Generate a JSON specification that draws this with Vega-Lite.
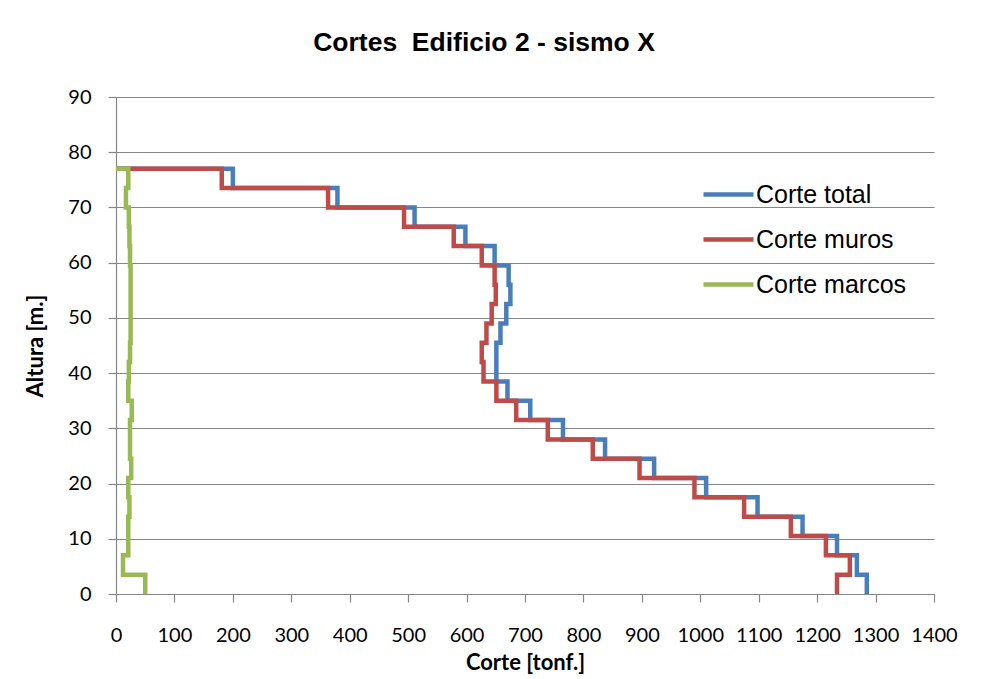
{
  "$schema": "https://vega.github.io/schema/vega-lite/v6.json",
  "width": 818,
  "height": 497,
  "autosize": {"type": "none"},
  "padding": {"left": 116, "top": 97, "right": 50, "bottom": 85},
  "background": "white",
  "title": {
    "text": "Cortes\u00a0 Edificio 2 - sismo X",
    "font": "Liberation Sans",
    "fontSize": 26.5,
    "fontWeight": "bold",
    "color": "black",
    "anchor": "middle",
    "dx": -41,
    "baseline": "alphabetic",
    "offset": 10
  },
  "config": {
    "view": {"stroke": null},
    "axis": {
      "domainColor": "#868686",
      "tickColor": "#868686",
      "gridColor": "#868686",
      "tickSize": 8,
      "domainWidth": 1.2,
      "tickWidth": 1.2,
      "gridWidth": 1.2,
      "labelFont": "Lato",
      "labelFontSize": 20,
      "labelColor": "black",
      "titleFont": "Lato",
      "titleFontSize": 22,
      "titleFontWeight": "bold",
      "titleColor": "black",
      "labelFlush": false,
      "labelOverlap": false
    }
  },
  "data": {
    "values": [
      {"serie": "Corte total", "corte": 0, "altura": 77},
      {"serie": "Corte total", "corte": 200, "altura": 73.5},
      {"serie": "Corte total", "corte": 379, "altura": 70},
      {"serie": "Corte total", "corte": 511, "altura": 66.5},
      {"serie": "Corte total", "corte": 598, "altura": 63},
      {"serie": "Corte total", "corte": 648, "altura": 59.5},
      {"serie": "Corte total", "corte": 672, "altura": 56},
      {"serie": "Corte total", "corte": 675, "altura": 52.5},
      {"serie": "Corte total", "corte": 668, "altura": 49},
      {"serie": "Corte total", "corte": 658, "altura": 45.5},
      {"serie": "Corte total", "corte": 651, "altura": 42},
      {"serie": "Corte total", "corte": 651, "altura": 38.5},
      {"serie": "Corte total", "corte": 670, "altura": 35},
      {"serie": "Corte total", "corte": 709, "altura": 31.5},
      {"serie": "Corte total", "corte": 765, "altura": 28},
      {"serie": "Corte total", "corte": 837, "altura": 24.5},
      {"serie": "Corte total", "corte": 921, "altura": 21},
      {"serie": "Corte total", "corte": 1010, "altura": 17.5},
      {"serie": "Corte total", "corte": 1098, "altura": 14},
      {"serie": "Corte total", "corte": 1175, "altura": 10.5},
      {"serie": "Corte total", "corte": 1234, "altura": 7},
      {"serie": "Corte total", "corte": 1268, "altura": 3.5},
      {"serie": "Corte total", "corte": 1285, "altura": 0},
      {"serie": "Corte muros", "corte": 0, "altura": 77},
      {"serie": "Corte muros", "corte": 181, "altura": 73.5},
      {"serie": "Corte muros", "corte": 363, "altura": 70},
      {"serie": "Corte muros", "corte": 493, "altura": 66.5},
      {"serie": "Corte muros", "corte": 578, "altura": 63},
      {"serie": "Corte muros", "corte": 626, "altura": 59.5},
      {"serie": "Corte muros", "corte": 648, "altura": 56},
      {"serie": "Corte muros", "corte": 650, "altura": 52.5},
      {"serie": "Corte muros", "corte": 643, "altura": 49},
      {"serie": "Corte muros", "corte": 634, "altura": 45.5},
      {"serie": "Corte muros", "corte": 626, "altura": 42},
      {"serie": "Corte muros", "corte": 629, "altura": 38.5},
      {"serie": "Corte muros", "corte": 651, "altura": 35},
      {"serie": "Corte muros", "corte": 685, "altura": 31.5},
      {"serie": "Corte muros", "corte": 739, "altura": 28},
      {"serie": "Corte muros", "corte": 816, "altura": 24.5},
      {"serie": "Corte muros", "corte": 896, "altura": 21},
      {"serie": "Corte muros", "corte": 990, "altura": 17.5},
      {"serie": "Corte muros", "corte": 1075, "altura": 14},
      {"serie": "Corte muros", "corte": 1155, "altura": 10.5},
      {"serie": "Corte muros", "corte": 1215, "altura": 7},
      {"serie": "Corte muros", "corte": 1256, "altura": 3.5},
      {"serie": "Corte muros", "corte": 1234, "altura": 0},
      {"serie": "Corte marcos", "corte": 0, "altura": 77},
      {"serie": "Corte marcos", "corte": 21, "altura": 73.5},
      {"serie": "Corte marcos", "corte": 17, "altura": 70},
      {"serie": "Corte marcos", "corte": 22, "altura": 66.5},
      {"serie": "Corte marcos", "corte": 23, "altura": 63},
      {"serie": "Corte marcos", "corte": 24, "altura": 59.5},
      {"serie": "Corte marcos", "corte": 25, "altura": 56},
      {"serie": "Corte marcos", "corte": 25, "altura": 52.5},
      {"serie": "Corte marcos", "corte": 25, "altura": 49},
      {"serie": "Corte marcos", "corte": 25, "altura": 45.5},
      {"serie": "Corte marcos", "corte": 24, "altura": 42},
      {"serie": "Corte marcos", "corte": 22, "altura": 38.5},
      {"serie": "Corte marcos", "corte": 21, "altura": 35},
      {"serie": "Corte marcos", "corte": 27, "altura": 31.5},
      {"serie": "Corte marcos", "corte": 24, "altura": 28},
      {"serie": "Corte marcos", "corte": 24, "altura": 24.5},
      {"serie": "Corte marcos", "corte": 26, "altura": 21},
      {"serie": "Corte marcos", "corte": 21, "altura": 17.5},
      {"serie": "Corte marcos", "corte": 23, "altura": 14},
      {"serie": "Corte marcos", "corte": 21, "altura": 10.5},
      {"serie": "Corte marcos", "corte": 21, "altura": 7},
      {"serie": "Corte marcos", "corte": 12, "altura": 3.5},
      {"serie": "Corte marcos", "corte": 50, "altura": 0}
    ]
  },
  "encoding": {
    "x": {
      "field": "corte",
      "type": "quantitative",
      "scale": {"domain": [0, 1400], "nice": false, "zero": true},
      "axis": {
        "title": "Corte [tonf.]",
        "grid": false,
        "format": "d",
        "values": [0, 100, 200, 300, 400, 500, 600, 700, 800, 900, 1000, 1100, 1200, 1300, 1400],
        "labelPadding": 23,
        "titlePadding": 7
      }
    },
    "y": {
      "field": "altura",
      "type": "quantitative",
      "scale": {"domain": [0, 90], "nice": false},
      "axis": {
        "title": "Altura [m.]",
        "grid": true,
        "values": [0, 10, 20, 30, 40, 50, 60, 70, 80, 90],
        "labelPadding": 17,
        "titlePadding": 20
      }
    },
    "color": {
      "field": "serie",
      "type": "nominal",
      "scale": {
        "domain": ["Corte total", "Corte muros", "Corte marcos"],
        "range": ["#4A7EBB", "#BE4B48", "#98B954"]
      },
      "legend": {
        "title": null,
        "orient": "none",
        "legendX": 585,
        "legendY": 70,
        "symbolType": "stroke",
        "symbolSize": 2500,
        "symbolStrokeWidth": 4.5,
        "labelFont": "Liberation Sans",
        "labelFontSize": 25,
        "labelColor": "black",
        "labelOffset": 0,
        "rowPadding": 4,
        "padding": 0
      }
    },
    "order": {"field": "altura", "sort": "descending"}
  },
  "layer": [
    {
      "transform": [{"filter": "datum.serie === 'Corte total'"}],
      "mark": {"type": "line", "interpolate": "step-after", "strokeWidth": 4.5}
    },
    {
      "transform": [{"filter": "datum.serie === 'Corte muros'"}],
      "mark": {"type": "line", "interpolate": "step-after", "strokeWidth": 4.5}
    },
    {
      "transform": [{"filter": "datum.serie === 'Corte marcos'"}],
      "mark": {"type": "line", "interpolate": "step-after", "strokeWidth": 4.5}
    }
  ]
}
